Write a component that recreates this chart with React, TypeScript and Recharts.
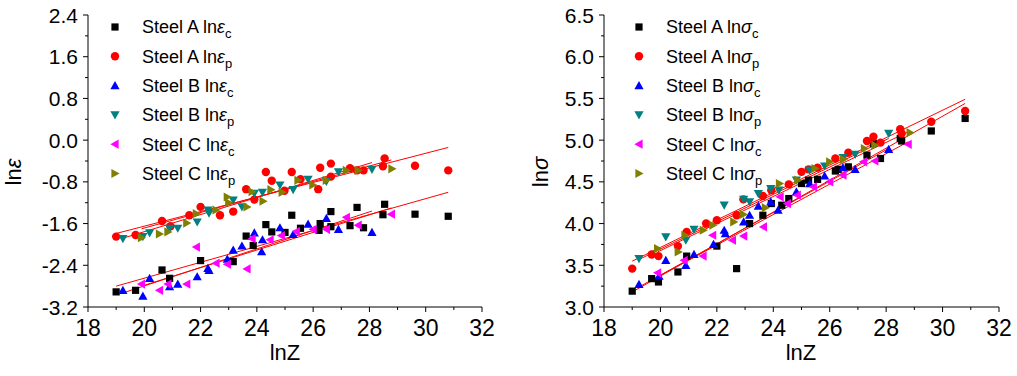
import React from 'react';
import { ScatterChart, Scatter, XAxis, YAxis, ReferenceLine } from 'recharts';

// ---------- Left panel: ln(epsilon) vs lnZ ----------
const epsAcX = [19.0, 19.69, 20.63, 20.9, 22.0, 23.16, 23.62, 23.87, 24.32, 24.53, 25.0, 25.24, 25.55, 26.21, 26.25, 26.63, 26.63, 27.31, 27.56, 27.79, 28.48, 28.54, 29.62, 30.8];
const epsAcY = [-2.91, -2.88, -2.49, -2.65, -2.31, -2.33, -1.84, -2.02, -1.62, -1.76, -1.77, -1.44, -1.69, -1.73, -1.6, -1.37, -1.66, -1.64, -1.29, -1.68, -1.43, -1.23, -1.42, -1.46];
const epsApX = [19.0, 19.69, 20.63, 20.93, 21.6, 22.0, 22.69, 23.16, 23.62, 23.91, 24.32, 24.53, 24.98, 25.24, 25.55, 26.18, 26.25, 26.63, 26.63, 27.31, 27.56, 27.79, 28.48, 28.54, 29.62, 30.8];
const epsApY = [-1.85, -1.82, -1.55, -1.65, -1.44, -1.28, -1.44, -1.37, -0.94, -1.14, -0.61, -0.78, -0.97, -0.61, -0.75, -0.94, -0.53, -0.45, -0.7, -0.54, -0.58, -0.58, -0.5, -0.35, -0.49, -0.58];
const epsBcX = [19.24, 19.95, 20.19, 20.9, 21.19, 21.88, 22.26, 22.3, 22.95, 23.16, 23.47, 23.91, 24.17, 24.2, 24.82, 25.29, 25.82, 26.47, 26.9, 28.09];
const epsBcY = [-2.88, -2.99, -2.65, -2.81, -2.76, -2.62, -2.46, -2.5, -2.28, -2.11, -2.03, -1.78, -2.14, -1.91, -1.68, -1.81, -1.61, -1.5, -1.71, -1.77];
const epsBpX = [19.24, 19.95, 20.19, 20.9, 21.19, 21.88, 22.26, 22.3, 23.16, 23.47, 23.91, 24.2, 24.82, 25.29, 25.82, 26.47, 26.9, 28.09];
const epsBpY = [-1.89, -1.85, -1.78, -1.69, -1.69, -1.57, -1.34, -1.4, -1.15, -1.28, -1.02, -1.0, -0.86, -0.95, -0.75, -0.79, -0.61, -0.56];
const epsCcX = [19.9, 20.54, 20.84, 21.51, 21.85, 22.55, 22.95, 23.65, 23.83, 24.47, 24.87, 25.4, 26.0, 26.47, 27.18, 27.6, 28.78];
const epsCcY = [-2.76, -2.88, -2.76, -2.76, -2.05, -2.36, -2.38, -2.47, -1.89, -1.91, -1.83, -1.75, -1.71, -1.71, -1.48, -1.63, -1.42];
const epsCpX = [19.9, 20.54, 20.84, 21.51, 21.85, 22.55, 22.95, 23.0, 23.65, 23.83, 24.22, 24.5, 24.9, 25.46, 25.99, 26.47, 27.18, 27.6, 28.8];
const epsCpY = [-1.87, -1.8, -1.76, -1.59, -1.41, -1.34, -1.09, -1.2, -1.28, -0.99, -1.17, -0.95, -1.0, -0.77, -0.86, -0.77, -0.58, -0.58, -0.55];
// fit lines: [x1, y1, x2, y2]
const epsFits = [
  [19.0, -1.79, 30.8, -0.14],
  [19.24, -1.88, 28.09, -0.43],
  [19.9, -1.7, 28.78, -0.38],
  [19.0, -2.8, 30.8, -1.0],
  [19.24, -2.93, 28.09, -1.36],
  [19.9, -2.8, 28.78, -1.3],
];
const epsTicks = [-3.2, -2.8, -2.4, -2.0, -1.6, -1.2, -0.8, -0.4, 0.0, 0.4, 0.8, 1.2, 1.6, 2.0, 2.4];

// ---------- Right panel: ln(sigma) vs lnZ ----------
const sigAcX = [19.0, 19.69, 19.93, 20.62, 20.93, 22.0, 22.7, 23.16, 23.63, 23.93, 24.3, 24.55, 25.0, 25.25, 25.57, 26.2, 26.3, 26.66, 27.32, 27.55, 27.8, 28.5, 28.55, 29.6, 30.8];
const sigAcY = [3.19, 3.34, 3.3, 3.42, 3.61, 3.73, 3.46, 4.0, 4.1, 4.24, 4.22, 4.3, 4.48, 4.52, 4.53, 4.63, 4.65, 4.68, 4.82, 4.96, 4.78, 5.02, 4.99, 5.11, 5.26];
const sigApX = [19.0, 19.69, 19.93, 20.62, 20.93, 21.62, 22.0, 22.7, 22.94, 23.63, 23.93, 24.55, 25.0, 25.25, 25.57, 26.2, 26.66, 27.32, 27.55, 27.8, 28.5, 28.55, 29.6, 30.8];
const sigApY = [3.46, 3.63, 3.61, 3.73, 3.9, 4.0, 4.04, 4.1, 4.29, 4.33, 4.4, 4.47, 4.62, 4.65, 4.67, 4.78, 4.85, 4.99, 5.04, 4.97, 5.13, 5.08, 5.22, 5.35];
const sigBcX = [19.24, 19.95, 20.19, 20.9, 21.19, 21.88, 22.26, 22.3, 22.95, 23.16, 23.47, 23.91, 24.17, 24.82, 25.29, 25.82, 26.47, 26.9, 28.09];
const sigBcY = [3.27, 3.37, 3.56, 3.5, 3.63, 3.75, 3.92, 3.88, 4.02, 4.1, 4.21, 4.26, 4.16, 4.38, 4.48, 4.57, 4.67, 4.65, 4.89];
const sigBpX = [19.24, 20.19, 20.9, 21.19, 22.26, 22.95, 23.16, 23.47, 23.91, 24.2, 24.82, 25.29, 25.82, 26.47, 26.9, 28.09];
const sigBpY = [3.58, 3.84, 3.8, 3.93, 4.22, 4.29, 4.26, 4.36, 4.42, 4.4, 4.52, 4.64, 4.69, 4.79, 4.83, 5.08];
const sigCcX = [19.9, 20.84, 21.51, 21.85, 22.55, 22.95, 23.65, 24.24, 24.5, 24.85, 25.42, 26.0, 26.47, 27.2, 27.6, 28.78];
const sigCcY = [3.41, 3.56, 3.61, 3.86, 3.8, 3.85, 3.96, 4.32, 4.24, 4.34, 4.44, 4.5, 4.58, 4.74, 4.75, 4.95];
const sigCpX = [19.9, 20.63, 20.87, 21.52, 21.86, 22.6, 22.94, 23.72, 24.22, 24.87, 25.48, 26.0, 26.49, 27.23, 27.6, 28.85];
const sigCpY = [3.7, 3.66, 3.86, 3.92, 3.98, 4.02, 4.11, 4.19, 4.48, 4.52, 4.66, 4.74, 4.77, 4.9, 4.94, 5.09];
const sigFits = [
  [19.0, 3.55, 30.8, 5.49],
  [19.0, 3.18, 30.8, 5.44],
  [19.24, 3.57, 28.09, 5.02],
  [19.9, 3.66, 28.78, 5.1],
  [19.24, 3.24, 28.09, 4.9],
  [19.9, 3.36, 28.78, 4.98],
];
const sigTicks = [3.0, 3.25, 3.5, 3.75, 4.0, 4.25, 4.5, 4.75, 5.0, 5.25, 5.5, 5.75, 6.0, 6.25, 6.5];

const lnZTicks = [18, 19, 20, 21, 22, 23, 24, 25, 26, 27, 28, 29, 30, 31, 32];

const seriesNames = ['Steel A', 'Steel A', 'Steel B', 'Steel B', 'Steel C', 'Steel C'];
const seriesSubs = ['c', 'p', 'c', 'p', 'c', 'p'];
const seriesKinds = ['square', 'circle', 'up', 'down', 'left', 'right'];
const seriesColors = ['#000000', '#ff0000', '#0000ff', '#008080', '#ff00ff', '#808000'];

const FONT = 'Arial, "Liberation Sans", Helvetica, sans-serif';

const zip = (xs: number[], ys: number[]) => xs.map((x, i) => ({ x, y: ys[i] }));

function Marker({ cx, cy, kind, color }: { cx: number; cy: number; kind: string; color: string }) {
  if (cx == null || cy == null || isNaN(cx) || isNaN(cy)) return null;
  const h = 4.6;
  const t = 3.6;
  switch (kind) {
    case 'square':
      return <rect x={cx - 3.6} y={cy - 3.6} width={7.2} height={7.2} fill={color} />;
    case 'circle':
      return <circle cx={cx} cy={cy} r={4.2} fill={color} />;
    case 'up':
      return <polygon points={`${cx},${cy - h} ${cx + h},${cy + t} ${cx - h},${cy + t}`} fill={color} />;
    case 'down':
      return <polygon points={`${cx},${cy + h} ${cx + h},${cy - t} ${cx - h},${cy - t}`} fill={color} />;
    case 'left':
      return <polygon points={`${cx - h},${cy} ${cx + t},${cy - h} ${cx + t},${cy + h}`} fill={color} />;
    default:
      return <polygon points={`${cx + h},${cy} ${cx - t},${cy - h} ${cx - t},${cy + h}`} fill={color} />;
  }
}

const makeXTick = () => (props: any) => {
  const { x, y, payload } = props;
  const v = payload.value;
  const major = Math.round(v) % 2 === 0;
  return (
    <g>
      <line x1={x} x2={x} y1={y} y2={y + (major ? 5 : 3)} stroke="#000" strokeWidth={1} />
      {major && (
        <text x={x} y={y + 29} textAnchor="middle" fontSize={23} fontFamily={FONT} fill="#000">
          {String(v)}
        </text>
      )}
    </g>
  );
};

const makeYTick = (min: number, step: number, side: 'left' | 'right', fontSize: number) => (props: any) => {
  const { x, y, payload } = props;
  const v = payload.value;
  const k = Math.round((v - min) / step);
  const major = k % 2 === 0;
  const len = major ? 5 : 3;
  if (side === 'right') {
    return <line x1={x} x2={x + len} y1={y} y2={y} stroke="#000" strokeWidth={1} />;
  }
  return (
    <g>
      <line x1={x - len} x2={x} y1={y} y2={y} stroke="#000" strokeWidth={1} />
      {major && (
        <text x={x - 10} y={y} dy="0.36em" textAnchor="end" fontSize={fontSize} fontFamily={FONT} fill="#000">
          {v.toFixed(1)}
        </text>
      )}
    </g>
  );
};

function Panel({
  data,
  fits,
  yTicks,
  yStep,
  marginLeft,
  width,
  yFont,
}: {
  data: { x: number; y: number }[][];
  fits: number[][];
  yTicks: number[];
  yStep: number;
  marginLeft: number;
  width: number;
  yFont: number;
}) {
  const yMin = yTicks[0];
  const yMax = yTicks[yTicks.length - 1];
  return (
    <ScatterChart width={width} height={376} margin={{ top: 15, right: 18, bottom: 0, left: marginLeft }}>
      <XAxis
        xAxisId="b"
        dataKey="x"
        type="number"
        domain={[18, 32]}
        ticks={lnZTicks}
        interval={0}
        height={69}
        tickSize={0}
        tickMargin={0}
        tickLine={false}
        tick={makeXTick()}
        axisLine={{ stroke: '#000', strokeWidth: 1 }}
        allowDataOverflow
      />
      <XAxis
        xAxisId="t"
        orientation="top"
        type="number"
        domain={[18, 32]}
        height={0}
        tick={false}
        tickLine={false}
        axisLine={{ stroke: '#000', strokeWidth: 1 }}
        allowDataOverflow
      />
      <YAxis
        yAxisId="l"
        dataKey="y"
        type="number"
        domain={[yMin, yMax]}
        ticks={yTicks}
        interval={0}
        width={60}
        tickSize={0}
        tickMargin={0}
        tickLine={false}
        tick={makeYTick(yMin, yStep, 'left', yFont)}
        axisLine={{ stroke: '#000', strokeWidth: 1 }}
        allowDataOverflow
      />
      <YAxis
        yAxisId="r"
        orientation="right"
        type="number"
        domain={[yMin, yMax]}
        ticks={yTicks}
        interval={0}
        width={0}
        tickSize={0}
        tickMargin={0}
        tickLine={false}
        tick={makeYTick(yMin, yStep, 'right', yFont)}
        axisLine={{ stroke: '#000', strokeWidth: 1 }}
        allowDataOverflow
      />
      {fits.map((f, i) => (
        <ReferenceLine
          key={'fit' + i}
          xAxisId="b"
          yAxisId="l"
          segment={[
            { x: f[0], y: f[1] },
            { x: f[2], y: f[3] },
          ]}
          stroke="#ff0000"
          strokeWidth={1}
        />
      ))}
      {data.map((d, i) => (
        <Scatter
          key={'s' + i}
          xAxisId="b"
          yAxisId="l"
          data={d}
          isAnimationActive={false}
          shape={(p: any) => <Marker cx={p.cx} cy={p.cy} kind={seriesKinds[i]} color={seriesColors[i]} />}
        />
      ))}
    </ScatterChart>
  );
}

function LegendBlock({ symX, textX, sym }: { symX: number; textX: number; sym: string }) {
  const y0 = 27;
  const dyRow = 29.3;
  return (
    <g>
      {seriesNames.map((n, i) => {
        const cy = y0 + i * dyRow;
        return (
          <g key={i}>
            <Marker cx={symX} cy={cy} kind={seriesKinds[i]} color={seriesColors[i]} />
            <text x={textX} y={cy} dy="0.36em" fontSize={18} fontFamily={FONT} fill="#000">
              {n + ' ln'}
              <tspan fontStyle="italic">{sym}</tspan>
              <tspan dy={5} fontSize={13}>
                {seriesSubs[i]}
              </tspan>
            </text>
          </g>
        );
      })}
    </g>
  );
}

export default function App() {
  const epsData = [zip(epsAcX, epsAcY), zip(epsApX, epsApY), zip(epsBcX, epsBcY), zip(epsBpX, epsBpY), zip(epsCcX, epsCcY), zip(epsCpX, epsCpY)];
  const sigData = [zip(sigAcX, sigAcY), zip(sigApX, sigApY), zip(sigBcX, sigBcY), zip(sigBpX, sigBpY), zip(sigCcX, sigCcY), zip(sigCpX, sigCpY)];
  return (
    <div style={{ position: 'absolute', left: 0, top: 0, width: 1017, height: 376, background: '#fff', overflow: 'hidden' }}>
      <div style={{ position: 'absolute', left: 0, top: 0 }}>
        <Panel data={epsData} fits={epsFits} yTicks={epsTicks} yStep={0.4} marginLeft={28} width={500} yFont={21} />
      </div>
      <div style={{ position: 'absolute', left: 510, top: 0 }}>
        <Panel data={sigData} fits={sigFits} yTicks={sigTicks} yStep={0.25} marginLeft={34} width={507} yFont={21} />
      </div>
      <svg width={1017} height={376} style={{ position: 'absolute', left: 0, top: 0, pointerEvents: 'none' }}>
        <LegendBlock symX={115} textX={142} sym="ε" />
        <LegendBlock symX={639} textX={666} sym="σ" />
        <text x={285} y={360} textAnchor="middle" fontSize={22} fontFamily={FONT} fill="#000">
          lnZ
        </text>
        <text x={801} y={360} textAnchor="middle" fontSize={22} fontFamily={FONT} fill="#000">
          lnZ
        </text>
        <text transform="translate(21,172) rotate(-90)" textAnchor="middle" fontSize={22} fontFamily={FONT} fill="#000">
          ln<tspan fontStyle="italic">ε</tspan>
        </text>
        <text transform="translate(548,172) rotate(-90)" textAnchor="middle" fontSize={22} fontFamily={FONT} fill="#000">
          ln<tspan fontStyle="italic">σ</tspan>
        </text>
      </svg>
    </div>
  );
}
